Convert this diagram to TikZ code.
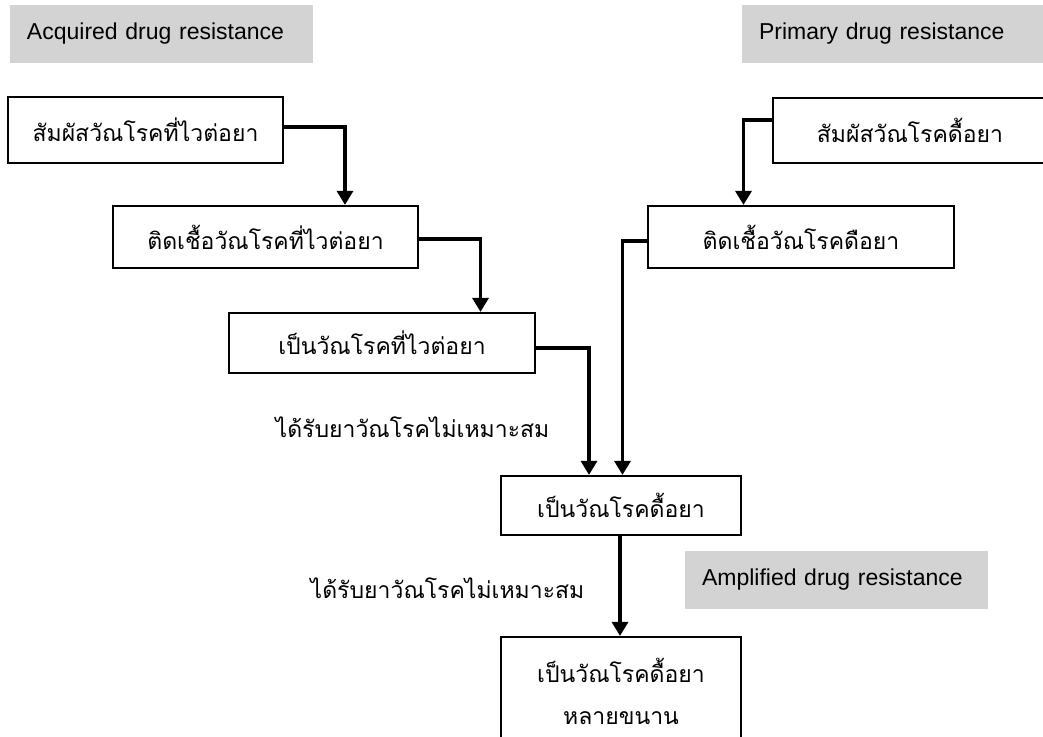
\documentclass[tikz,border=0pt]{standalone}
\usepackage{fontspec}
\setmainfont{Liberation Sans}
\newfontfamily\thaifont[Script=Thai]{Loma}
\usetikzlibrary{arrows.meta,positioning}

\definecolor{tagfill}{RGB}{211,211,211}

\tikzset{
  flowbox/.style={draw=black, line width=2.2pt, fill=white, inner sep=0pt,
    font=\thaifont\fontsize{23}{28}\selectfont, align=center},
  tagbox/.style={fill=tagfill, draw=none, inner xsep=17pt, inner ysep=0pt,
    minimum height=58pt, text width=269pt, align=left,
    font=\fontsize{23}{28}\selectfont},
  flowlabel/.style={inner sep=0pt, font=\thaifont\fontsize{23}{28}\selectfont},
  flowarrow/.style={line width=3.2pt,
    -{Triangle[width=16pt,length=14pt]}},
}

\begin{document}
\begin{tikzpicture}[x=1pt,y=-1pt]
  \useasboundingbox (0,0) rectangle (1043,736);
  \clip (0,0) rectangle (1043,736);

  % pathway headings
  \node[tagbox] (acq) at (161.5,34) {Acquired drug resistance};
  \node[tagbox, text width=267pt] (pri) at (892.5,34) {Primary drug resistance};
  \node[tagbox] (amp) at (836.5,579.5) {Amplified drug resistance};

  % acquired resistance chain
  \node[flowbox, minimum width=275pt, minimum height=66pt] (a1) at (145.5,130)
    {สัมผัสวัณโรคที่ไวต่อยา};
  \node[flowbox, minimum width=305pt, minimum height=62pt] (a2) at (265.5,237)
    {ติดเชื้อวัณโรคที่ไวต่อยา};
  \node[flowbox, minimum width=306pt, minimum height=60pt] (a3) at (382,343)
    {เป็นวัณโรคที่ไวต่อยา};

  % primary resistance chain
  \node[flowbox, minimum width=274pt, minimum height=65pt] (p1) at (910,130.5)
    {สัมผัสวัณโรคดื้อยา};
  \node[flowbox, minimum width=306pt, minimum height=62pt] (p2) at (801,237)
    {ติดเชื้อวัณโรคดือยา};

  % resistant and multi-drug resistant TB
  \node[flowbox, minimum width=240pt, minimum height=59pt] (r1) at (621,505.5)
    {เป็นวัณโรคดื้อยา};
  \node[flowbox, minimum width=240pt, minimum height=108pt,
        font=\thaifont\fontsize{23}{42}\selectfont] (r2) at (621,691)
    {เป็นวัณโรคดื้อยา\\หลายขนาน};

  % labels on the inadequate-treatment steps
  \node[flowlabel] (t1) at (412.5,427) {ได้รับยาวัณโรคไม่เหมาะสม};
  \node[flowlabel] (t2) at (447.5,588) {ได้รับยาวัณโรคไม่เหมาะสม};

  % connectors
  \draw[flowarrow] ([yshift=3pt]a1.east) -| ([xshift=79.5pt]a2.north);
  \draw[flowarrow] ([yshift=-2pt]a2.east) -| ([xshift=98.5pt]a3.north);
  \draw[flowarrow] ([yshift=-5pt]a3.east) -| ([xshift=-32pt]r1.north);
  \draw[flowarrow] ([yshift=10.5pt]p1.west) -| ([xshift=-57.5pt]p2.north);
  \draw[flowarrow] ([yshift=-4pt]p2.west) -| ([xshift=1.5pt]r1.north);
  \draw[flowarrow] ([xshift=-1pt]r1.south) -- ([xshift=-1pt]r2.north);
\end{tikzpicture}
\end{document}
